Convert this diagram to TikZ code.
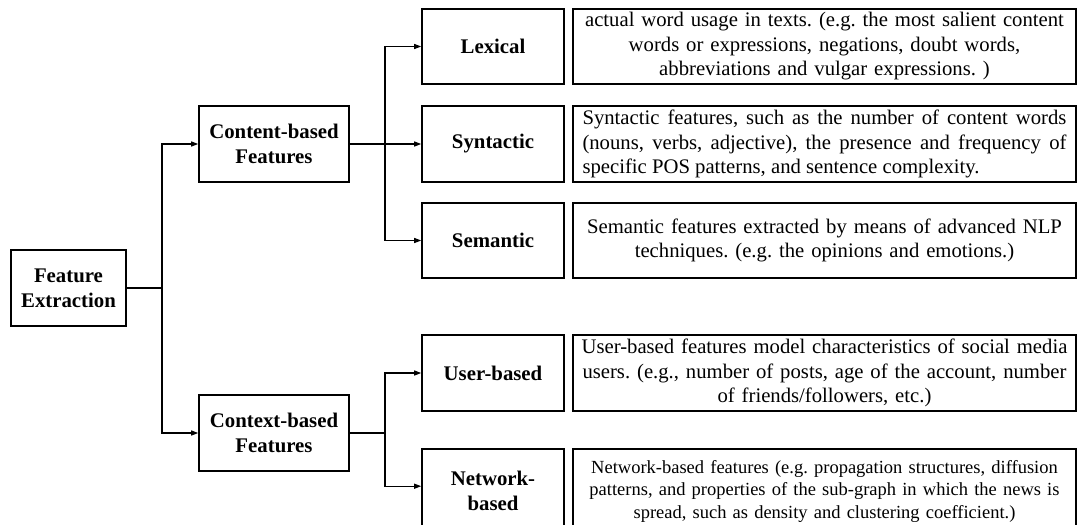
\documentclass[tikz,border=0pt]{standalone}
\usepackage{fontspec}
\setmainfont{Liberation Serif}
\usetikzlibrary{arrows.meta,calc}
\frenchspacing
\begin{document}
\begin{tikzpicture}[x=1pt,y=-1pt,
  box/.style={draw=black,line width=1.6pt,inner sep=0pt,minimum height=76pt},
  lab/.style={box,font=\fontsize{20.8}{25}\selectfont\bfseries,align=center},
  desc/.style={box,minimum width=503pt,text width=490pt,align=center,font=\fontsize{20.7}{24.5}\selectfont\frenchspacing},
  conn/.style={line width=1.3pt},
  arr/.style={conn,-{Triangle[length=7pt,width=5pt]}},
  thickconn/.style={line width=2.8pt}]
\useasboundingbox (0,0) rectangle (1077,525);
% left column
\node[lab,minimum width=115pt] (fe) at (68.5,288) {Feature\\Extraction};
\node[lab,minimum width=150pt] (content) at (274,144) {Content-based\\Features};
\node[lab,minimum width=150pt] (context) at (274,433) {Context-based\\Features};
% middle column
\node[lab,minimum width=142pt,minimum height=75pt] (lex) at (493,46.5) {Lexical};
\node[lab,minimum width=142pt] (syn) at (493,144) {Syntactic};
\node[lab,minimum width=142pt,minimum height=75pt] (sem) at (493,240.5) {Semantic};
\node[lab,minimum width=142pt] (user) at (493,373) {User-based};
\node[lab,minimum width=142pt,minimum height=84pt] (net) at (493,491) {Network-\\based};
% descriptions
\node[desc,minimum height=75pt] (dlex) at (824.5,46.5) {actual word usage in texts. (e.g. the most salient content\\words or expressions, negations, doubt words,\\abbreviations and vulgar expressions. )};
\node[desc,text width=484pt,align=justify] (dsyn) at (824.5,144) {Syntactic features, such as the number of content words\linebreak (nouns, verbs, adjective), the presence and frequency of\linebreak specific POS patterns, and sentence complexity.};
\node[desc,minimum height=75pt] (dsem) at (824.5,240.5) {Semantic features extracted by means of advanced NLP\\techniques. (e.g. the opinions and emotions.)};
\node[desc] (duser) at (824.5,373) {User-based features model characteristics of social media\\users. (e.g., number of posts, age of the account, number\\of friends/followers, etc.)};
\node[desc,minimum height=84pt,font=\fontsize{18.5}{22.5}\selectfont\frenchspacing] (dnet) at (824.5,491) {Network-based features (e.g. propagation structures, diffusion\\patterns, and properties of the sub-graph in which the news is\\spread, such as density and clustering coefficient.)};
% connectors
\coordinate (trunk) at (162,288);
\coordinate (bra) at (385,144);
\coordinate (brb) at (385,433);
\draw[conn] (fe.east) -- (trunk);
\draw[arr] (trunk) |- (content.west);
\draw[arr] (trunk) |- (context.west);
\draw[thickconn] (content.east) -- (bra);
\draw[arr] (bra) |- (lex.west);
\draw[arr] (bra) -- (syn.west);
\draw[arr] (bra) |- (sem.west);
\draw[thickconn] (context.east) -- (brb);
\draw[arr] (brb) |- (user.west);
\draw[arr] (brb) |- ($(net.north west)+(0,38)$);
\end{tikzpicture}
\end{document}
